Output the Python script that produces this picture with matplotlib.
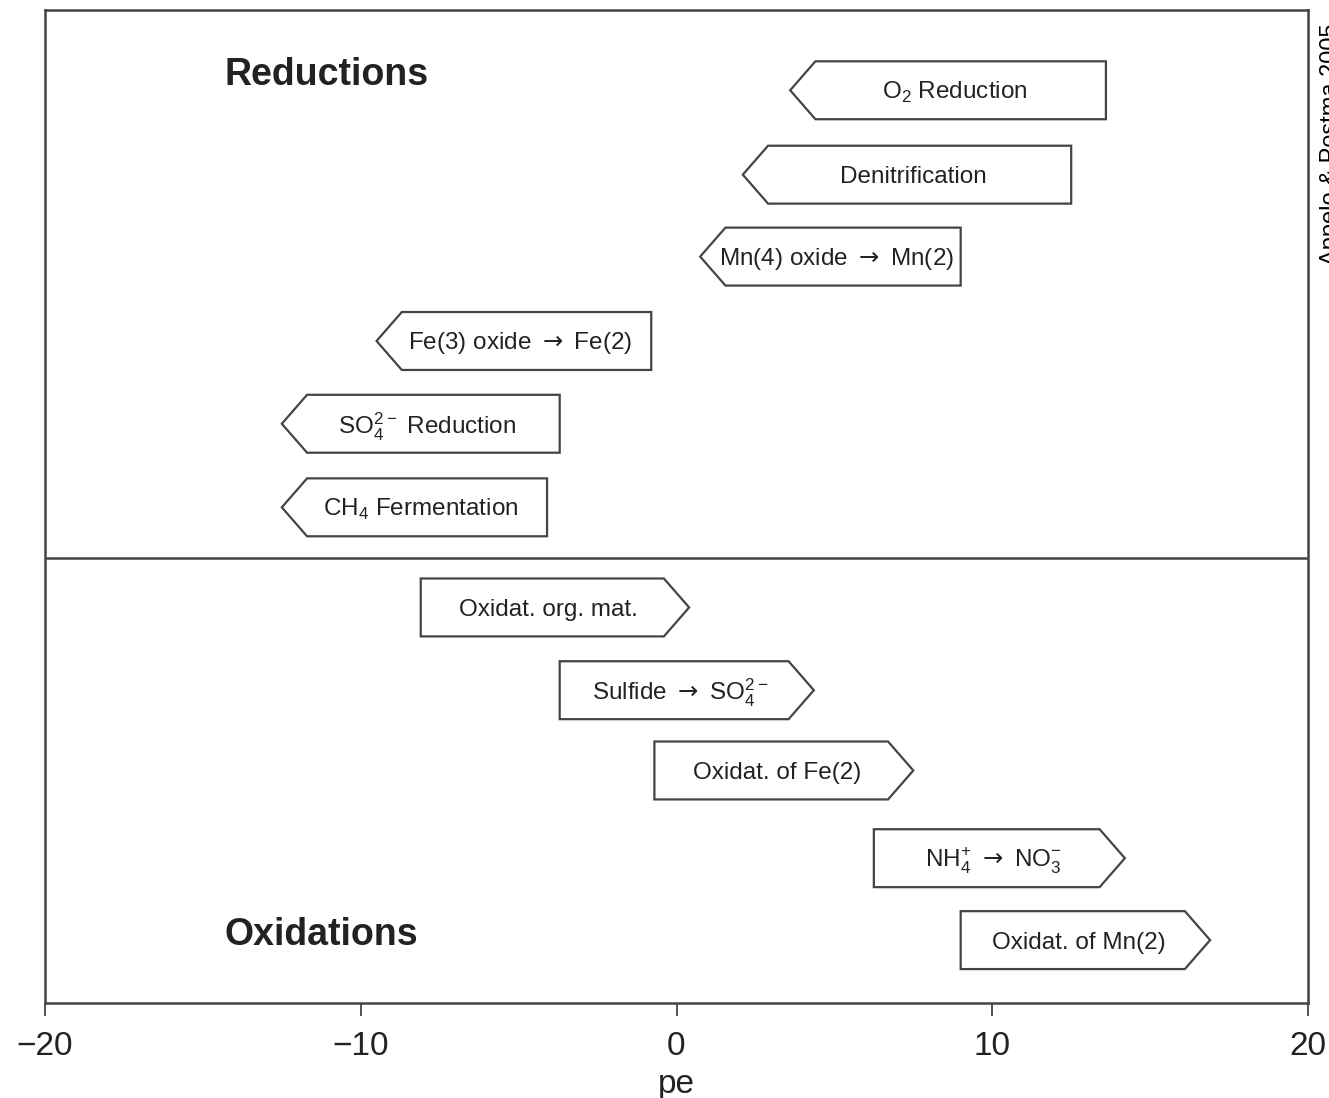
import matplotlib
matplotlib.use("Agg")
import matplotlib.pyplot as plt
from matplotlib.patches import Polygon

plt.rcParams['font.family'] = ['Liberation Sans', 'DejaVu Sans']
plt.rcParams['mathtext.fontset'] = 'dejavusans'

ARR = r" $\rightarrow$ "

# reductions: arrow points to lower pe (tip on the left)
red_labels = [r"O$_\mathregular{2}$ Reduction", "Denitrification",
              "Mn(4) oxide" + ARR + "Mn(2)", "Fe(3) oxide" + ARR + "Fe(2)",
              r"SO$_\mathregular{4}^\mathregular{2-}$ Reduction",
              r"CH$_\mathregular{4}$ Fermentation"]
red_low = [3.6, 2.1, 0.75, -9.5, -12.5, -12.5]
red_high = [13.6, 12.5, 9.0, -0.8, -3.7, -4.1]
red_rows = [0.97, 1.99, 2.98, 4.0, 5.0, 6.01]

# oxidations: arrow points to higher pe (tip on the right)
ox_labels = ["Oxidat. org. mat.", "Sulfide" + ARR + r"SO$_\mathregular{4}^\mathregular{2-}$",
             "Oxidat. of Fe(2)",
             r"NH$_\mathregular{4}^\mathregular{+}$" + ARR + r"NO$_\mathregular{3}^\mathregular{-}$",
             "Oxidat. of Mn(2)"]
ox_low = [-8.1, -3.7, -0.7, 6.25, 9.0]
ox_high = [0.4, 4.35, 7.5, 14.2, 16.9]
ox_rows = [7.22, 8.22, 9.19, 10.25, 11.24]

divider = 6.62
tip = 0.8
half_h = 0.35
edge = '#444444'
txt = '#222222'

fig = plt.figure(figsize=(13.29, 10.98), dpi=100)
ax = fig.add_axes([45 / 1329, 95 / 1098, 1263 / 1329, 993 / 1098])
ax.set_xlim(-20, 20)
ax.set_ylim(12, 0)

for lab, lo, hi, y in zip(red_labels, red_low, red_high, red_rows):
    pts = [(lo, y), (lo + tip, y - half_h), (hi, y - half_h),
           (hi, y + half_h), (lo + tip, y + half_h)]
    ax.add_patch(Polygon(pts, closed=True, facecolor='white', edgecolor=edge, lw=1.6))
    ax.text((lo + hi) / 2 + 0.2, y + 0.03, lab, ha='center', va='center',
            fontsize=17.5, color=txt)

for lab, lo, hi, y in zip(ox_labels, ox_low, ox_high, ox_rows):
    pts = [(lo, y - half_h), (hi - tip, y - half_h), (hi, y),
           (hi - tip, y + half_h), (lo, y + half_h)]
    ax.add_patch(Polygon(pts, closed=True, facecolor='white', edgecolor=edge, lw=1.6))
    ax.text((lo + hi) / 2 - 0.2, y + 0.03, lab, ha='center', va='center',
            fontsize=17.5, color=txt)

ax.axhline(divider, color=edge, lw=1.8)

ax.text(-14.33, 0.78, "Reductions", ha='left', va='center', fontsize=27,
        fontweight='bold', color=txt)
ax.text(-14.33, 11.18, "Oxidations", ha='left', va='center', fontsize=27,
        fontweight='bold', color=txt)

for sp in ax.spines.values():
    sp.set_color(edge)
    sp.set_linewidth(1.8)
ax.set_yticks([])
ax.set_xticks([-20, -10, 0, 10, 20])
ax.set_xticklabels(['\u221220', '\u221210', '0', '10', '20'])
ax.tick_params(axis='x', direction='out', length=9.5, width=1.3, color=edge,
               labelsize=24, pad=11, labelcolor=txt)
ax.set_xlabel('pe', fontsize=24, color=txt, labelpad=5)

fig.text(1320 / 1329, (1098 - 265) / 1098, "Appelo & Postma 2005", rotation=90,
         ha='left', va='bottom', fontsize=17, color='black')

fig.savefig('out.png', dpi=100)
